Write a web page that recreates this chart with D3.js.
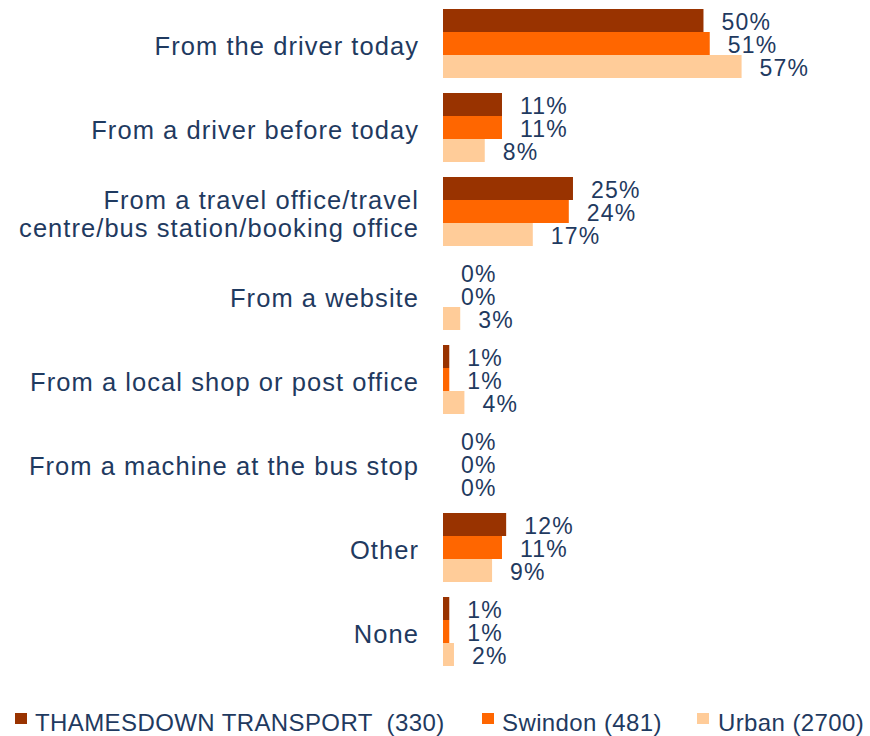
<!DOCTYPE html>
<html>
<head>
<meta charset="utf-8">
<script src="https://cdn.jsdelivr.net/npm/d3@7"></script>
<style>
  html, body { margin: 0; padding: 0; background: #ffffff; }
  svg { display: block; }
  text { font-family: "Liberation Sans", Arial, sans-serif; fill: #1F3A60; }
</style>
</head>
<body>
<svg id="chart" width="870" height="736"></svg>
<script>
const categories = [
  ["From the driver today"],
  ["From a driver before today"],
  ["From a travel office/travel", "centre/bus station/booking office"],
  ["From a website"],
  ["From a local shop or post office"],
  ["From a machine at the bus stop"],
  ["Other"],
  ["None"]
];
const seriesNames = ["THAMESDOWN TRANSPORT  (330)", "Swindon (481)", "Urban (2700)"];
const seriesColors = ["#993300", "#FF6600", "#FFCC99"];
const thamesdown = [49.9, 11.3, 24.9, 0, 1.2, 0, 12.1, 1.2];
const swindon    = [51.1, 11.3, 24.1, 0, 1.2, 0, 11.3, 1.2];
const urban      = [57.2, 8.0, 17.2, 3.3, 4.1, 0, 9.4, 2.1];
const seriesValues = [thamesdown, swindon, urban];

const svg = d3.select("#chart");
const catIdx = d3.range(categories.length);

const x = d3.scaleLinear().domain([0, 100]).range([443, 965]);
const y = d3.scaleBand().domain(catIdx).range([1.5, 673.5])
  .paddingInner(15 / 84).paddingOuter(15 / 168);
const ySub = d3.scaleBand().domain(d3.range(seriesNames.length)).range([0, y.bandwidth()]);

const groups = svg.selectAll("g.cat").data(catIdx).join("g")
  .attr("class", "cat")
  .attr("transform", i => `translate(0,${y(i)})`);

// bars
groups.each(function(i) {
  const g = d3.select(this);
  const rows = seriesValues.map((vals, s) => ({ s, v: vals[i] }));
  g.selectAll("rect").data(rows).join("rect")
    .attr("x", x(0))
    .attr("y", d => ySub(d.s))
    .attr("width", d => Math.max(0, x(d.v) - x(0)))
    .attr("height", ySub.bandwidth())
    .attr("fill", d => seriesColors[d.s]);
  g.selectAll("text.val").data(rows).join("text")
    .attr("class", "val")
    .attr("x", d => x(d.v) + 18)
    .attr("y", d => ySub(d.s) + ySub.bandwidth() / 2 + 9.5)
    .style("font-size", "23px")
    .style("letter-spacing", "1.2px")
    .text(d => Math.round(d.v) + "%");
});

// category labels
groups.append("text")
  .attr("class", "cat-label")
  .attr("text-anchor", "end")
  .style("font-size", "25.5px")
  .style("letter-spacing", "1.05px")
  .each(function(i) {
    const lines = categories[i];
    const t = d3.select(this);
    const c = y.bandwidth() / 2 + 11;
    lines.forEach((ln, k) => {
      t.append("tspan")
        .attr("x", 419)
        .attr("y", c + (k - (lines.length - 1) / 2) * 28)
        .text(ln);
    });
  });

// legend
const legendX = [15, 482, 697];
const leg = svg.selectAll("g.legend").data(seriesNames).join("g")
  .attr("class", "legend")
  .attr("transform", (d, i) => `translate(${legendX[i]},713)`);
leg.append("rect").attr("width", 12).attr("height", 11)
  .attr("fill", (d, i) => seriesColors[i]);
leg.append("text")
  .attr("x", (d, i) => i === 2 ? 21 : 20)
  .attr("y", 18)
  .style("font-size", "24px")
  .style("letter-spacing", "0.4px")
  .style("white-space", "pre")
  .attr("xml:space", "preserve")
  .text(d => d);
</script>
</body>
</html>
